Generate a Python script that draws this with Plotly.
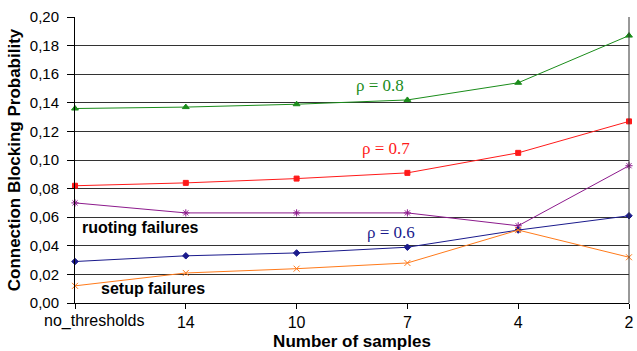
import plotly.graph_objects as go

categories = ["no_thresholds", "14", "10", "7", "4", "2"]
rho08 = [0.136, 0.137, 0.139, 0.142, 0.154, 0.187]
rho07 = [0.082, 0.084, 0.087, 0.091, 0.105, 0.127]
routing = [0.070, 0.063, 0.063, 0.063, 0.054, 0.096]
rho06 = [0.029, 0.033, 0.035, 0.039, 0.051, 0.061]
setup = [0.012, 0.021, 0.024, 0.028, 0.051, 0.032]
yticks = [0, 0.02, 0.04, 0.06, 0.08, 0.10, 0.12, 0.14, 0.16, 0.18, 0.20]

xs = list(range(len(categories)))

fig = go.Figure()
series = [
    (rho08, "#1a8c1a", "triangle-up", 6),
    (rho07, "#ff1a1a", "square", 5),
    (routing, "#8c1a8c", "asterisk-open", 6),
    (rho06, "#1a1a8c", "diamond", 5),
    (setup, "#ff7a1a", "x-thin-open", 6),
]
for vals, col, sym, sz in series:
    fig.add_trace(go.Scatter(
        x=xs, y=vals, mode="lines+markers",
        line=dict(color=col, width=1),
        marker=dict(color=col, symbol=sym, size=sz, line=dict(color=col, width=1)),
        showlegend=False, cliponaxis=False))

serif = "Liberation Serif"
sans = "Liberation Sans"
anns = [
    (2.52, 0.152, "ρ = 0.8", "#1a8c1a", serif, 17, False),
    (2.57, 0.108, "ρ = 0.7", "#ff1a1a", serif, 17, False),
    (2.62, 0.049, "ρ = 0.6", "#1a1a8c", serif, 17, False),
    (0.045, 0.053, "ruoting failures", "black", sans, 16, True),
    (0.22, 0.0098, "setup failures", "black", sans, 16, True),
]
for x, y, t, c, f, s, b in anns:
    fig.add_annotation(x=x, y=y, text=("<b>%s</b>" % t) if b else t, showarrow=False,
                       xanchor="left", yanchor="middle",
                       font=dict(color=c, family=f, size=s))

# first category label is shifted right of its tick (as in the original)
fig.add_annotation(x=xs[0], y=0, xref="x", yref="y", yshift=-18, xshift=-33,
                   text=categories[0], showarrow=False, xanchor="left", yanchor="middle",
                   font=dict(family=sans, size=16, color="black"))
ticktext = [""] + categories[1:]

fig.update_layout(
    width=637, height=351,
    margin=dict(l=75, r=3, t=17, b=48),
    paper_bgcolor="white", plot_bgcolor="white",
    separators=",.",
    font=dict(family=sans, size=15, color="black"),
    xaxis=dict(range=[0, 5], tickvals=xs, ticktext=ticktext,
               showgrid=False, showline=True, linecolor="black", linewidth=1,
               ticks="outside", ticklen=5, tickcolor="black",
               ticklabeloverflow="allow", tickfont=dict(size=16),
               mirror=False, zeroline=False,
               title=dict(text="<b>Number of samples</b>", font=dict(size=17), standoff=4)),
    yaxis=dict(range=[0, 0.2], tickvals=yticks, tickformat=".2f",
               showgrid=True, gridcolor="#333", gridwidth=1,
               showline=True, linecolor="black", linewidth=1,
               ticks="outside", ticklen=7, tickcolor="black", zeroline=False,
               ticklabelstandoff=5,
               title=dict(text="<b>Connection Blocking Probability</b>", font=dict(size=17), standoff=4)),
)
fig.add_shape(type="line", xref="paper", yref="paper", x0=1, x1=1, y0=0, y1=1,
              line=dict(color="#333", width=1))
fig.write_html("out.html")
